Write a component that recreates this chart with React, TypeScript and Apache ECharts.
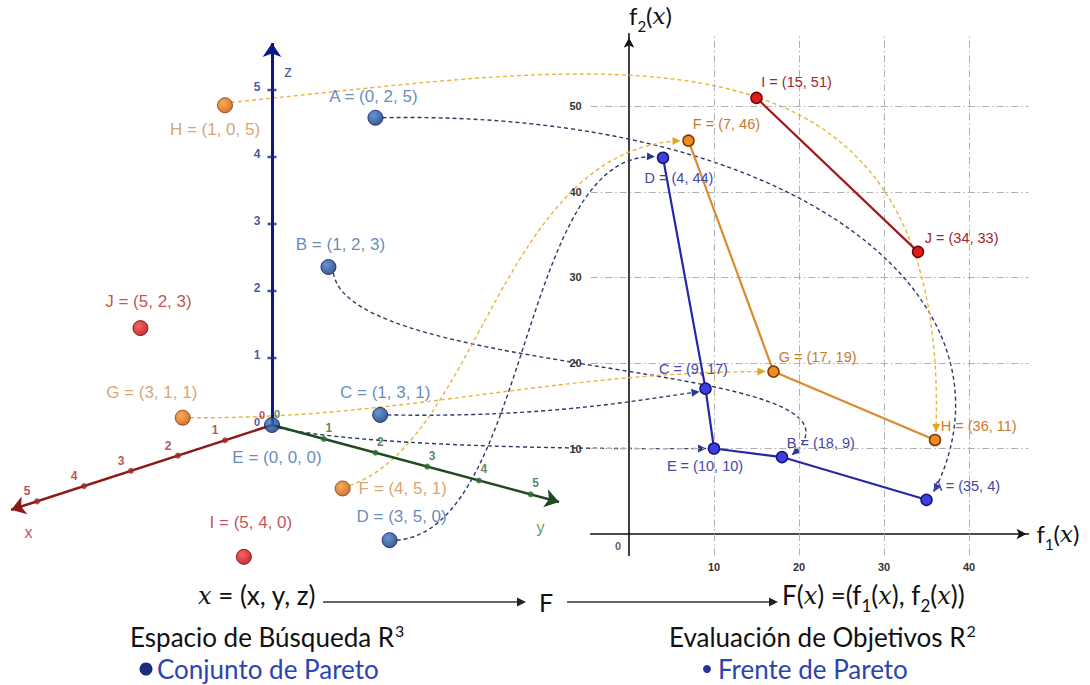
import React, { useEffect, useRef } from 'react';
import * as echarts from 'echarts';

// ---------- data ----------
const pointNames = ['A', 'B', 'C', 'D', 'E', 'F', 'G', 'H', 'I', 'J'];
const searchX = [0, 1, 1, 3, 0, 4, 3, 1, 5, 5];
const searchY = [2, 2, 3, 5, 0, 5, 1, 0, 4, 2];
const searchZ = [5, 3, 1, 0, 0, 1, 1, 5, 0, 3];
const f1Values = [35, 18, 9, 4, 10, 7, 17, 36, 15, 34];
const f2Values = [4, 9, 17, 44, 10, 46, 19, 11, 51, 33];
const paretoFront = ['D', 'C', 'E', 'B', 'A'];
const secondFront = ['F', 'G', 'H'];
const thirdFront = ['I', 'J'];
const axis3DTicks = [0, 1, 2, 3, 4, 5];
const f1TickLabels = [10, 20, 30, 40];
const f2TickLabels = [10, 20, 30, 40, 50];
const f1GridLines = [10, 20, 30, 40];
const f2GridLines = [10, 20, 30, 40, 50];

// ---------- styling ----------
const FONT = 'Liberation Sans';
const BOTTOM_FONT = 'Lato';
const groupOf = (n: string) =>
  paretoFront.includes(n) ? 'p' : secondFront.includes(n) ? 's' : 't';
const colors: any = {
  p: { fill: '#3f3fe0', border: '#15157a', line: '#2626a6', label: '#4646a8', lLabel: '#3e6ea6' },
  s: { fill: '#f08a22', border: '#7a3a06', line: '#d98b2e', label: '#c8792e', lLabel: '#cf8c4e' },
  t: { fill: '#e11a1a', border: '#6a0606', line: '#a3161f', label: '#a3242e', lLabel: '#b0262c' },
};
const sphere: any = {
  p: ['#3d7ccc', '#0c2f6c'],
  s: ['#ff9430', '#c05200'],
  t: ['#ff3a3a', '#a80000'],
};

// oblique projection of the 3D search space (units of the z axis)
const EX = [-0.7015, -0.228];
const EY = [0.772, -0.207];
const proj = (x: number, y: number, z: number) => [x * EX[0] + y * EY[0], x * EX[1] + y * EY[1] + z];

const leftLabel: any = {
  A: ['top', [-2, 0]],
  B: ['top', [12, -1]],
  C: ['top', [5, -1]],
  D: ['top', [12, -2]],
  E: ['bottom', [5, 11]],
  F: ['right', [3, 0]],
  G: ['top', [-31, -4]],
  H: ['bottom', [-10, 3]],
  I: ['top', [7, -13]],
  J: ['top', [8, -5]],
};
const rightLabel: any = {
  A: ['right', [-5, -14]],
  B: ['right', [-6.5, -14]],
  C: ['top', [-12, -1]],
  D: ['bottom', [16, 1]],
  E: ['bottom', [-9, -1]],
  F: ['right', [-7, -17]],
  G: ['right', [-6, -15]],
  H: ['right', [-5.5, -14]],
  I: ['right', [-6.5, -16]],
  J: ['right', [-4.5, -14]],
};
// connector routing: start offset, end offset, control1 (rel. start), control2 (rel. end)
const connectors: any = {
  A: [[7, 0], [7.5, -8], [417, -8], [96, -192]],
  B: [[5, 6], [10, -2], [16, 106], [108, -95]],
  C: [[7, 0], [-6, 3], [163, 3], [-60, 8]],
  D: [[7, 0], [-8, -1], [133, -10], [-135, -7]],
  E: [[7, 3], [-8, 0], [81, 17], [-156, 1]],
  F: [[7, -3], [-8, 0], [130, -45], [-180, 9]],
  G: [[7, 0], [-8, 0], [210, 2], [-215, 0]],
  H: [[6, -3], [1, -8], [369, -36], [14, -440]],
};

const idx = (n: string) => pointNames.indexOf(n);
const p3 = (n: string) => { const i = idx(n); return proj(searchX[i], searchY[i], searchZ[i]); };
const p2 = (n: string) => { const i = idx(n); return [f1Values[i], f2Values[i]]; };
const label3 = (n: string) => { const i = idx(n); return `${n} = (${searchX[i]}, ${searchY[i]}, ${searchZ[i]})`; };
const label2 = (n: string) => { const i = idx(n); return `${n} = (${f1Values[i]}, ${f2Values[i]})`; };

const radial = (g: string) =>
  new echarts.graphic.RadialGradient(0.38, 0.35, 0.7, [
    { offset: 0, color: sphere[g][0] },
    { offset: 1, color: sphere[g][1] },
  ]);

function buildOption(): any {
  const leftPoints = pointNames.map((n) => {
    const g = groupOf(n);
    return {
      value: p3(n),
      itemStyle: { color: radial(g), borderColor: colors[g].border, borderWidth: 1 },
      label: {
        show: true,
        formatter: label3(n),
        position: leftLabel[n][0],
        offset: leftLabel[n][1],
        color: colors[g].lLabel,
        fontSize: 17,
        fontFamily: FONT,
      },
    };
  });

  const frontSeries = (names: string[], g: string) => ({
    type: 'line',
    xAxisIndex: 1,
    yAxisIndex: 1,
    z: 5,
    symbol: 'circle',
    symbolSize: 11,
    lineStyle: { color: colors[g].line, width: 2.2 },
    itemStyle: { color: colors[g].fill, borderColor: colors[g].border, borderWidth: 1.5 },
    data: names.map((n) => ({
      value: p2(n),
      label: {
        show: true,
        formatter: label2(n),
        position: rightLabel[n][0],
        offset: rightLabel[n][1],
        color: colors[g].label,
        fontSize: 14.5,
        fontFamily: FONT,
      },
    })),
  });

  const tickSeries = (axis: 'x' | 'y' | 'z', color: string, symbol: string, size: any, off: number[]) => ({
    type: 'scatter',
    xAxisIndex: 0,
    yAxisIndex: 0,
    z: 3,
    symbol,
    data: axis3DTicks.map((t) => ({
      value: axis === 'x' ? proj(t, 0, 0) : axis === 'y' ? proj(0, t, 0) : proj(0, 0, t),
      symbolSize: t === 0 ? 0 : size,
      label: { fontSize: t === 0 ? 11 : 12 },
    })),
    itemStyle: { color },
    label: {
      show: true,
      position: 'inside',
      offset: off,
      formatter: (p: any) => String(axis3DTicks[p.dataIndex]),
      color,
      fontFamily: FONT,
      fontWeight: 'bold',
    },
  });

  const axisName = (name: string, pos: number[], off: number[], color: string) => ({
    value: pos,
    label: { show: true, formatter: name, position: 'inside', offset: off, color, fontSize: 16, fontFamily: FONT },
  });

  const subRich = (fs: number) => ({
    f: { fontSize: fs, lineHeight: fs, fontFamily: BOTTOM_FONT, color: '#111', verticalAlign: 'bottom', padding: [0, 0, 6, 0] },
    i: { fontSize: fs - 1, lineHeight: fs, fontFamily: 'DejaVu Serif', fontStyle: 'italic', color: '#111', verticalAlign: 'bottom', padding: [0, 0, 6, 0] },
    s: { fontSize: 15, lineHeight: 15, fontFamily: BOTTOM_FONT, color: '#111', verticalAlign: 'bottom' },
  });

  return {
    animation: false,
    backgroundColor: '#ffffff',
    textStyle: { fontFamily: FONT },
    grid: [
      { left: 4, top: 23, width: 670, height: 603 },
      { left: 590.75, top: 33.8, width: 437.75, height: 521.6 },
    ],
    xAxis: [
      { gridIndex: 0, type: 'value', min: -4, max: 6, show: false },
      {
        gridIndex: 1,
        type: 'value',
        min: -4.5,
        max: 47,
        minInterval: 10,
        maxInterval: 10,
        name: '{f|f}{s|1}{f|(}{i|x}{f|)}',
        nameLocation: 'end',
        nameGap: 8,
        nameTextStyle: { rich: subRich(24), verticalAlign: 'middle', padding: [10, 0, 0, 0] },
        axisLine: { onZero: true, symbol: ['none', 'arrow'], symbolSize: [8, 10], symbolOffset: [0, -2], lineStyle: { color: '#111', width: 1.6 } },
        axisTick: { show: false },
        splitLine: { show: false },
        axisLabel: {
          showMinLabel: false,
          showMaxLabel: false,
          margin: 6,
          color: '#333',
          fontSize: 11,
          fontWeight: 'bold',
          formatter: (v: number) => (f1TickLabels.includes(v) ? String(v) : ''),
        },
      },
    ],
    yAxis: [
      { gridIndex: 0, type: 'value', min: -3, max: 6, show: false },
      {
        gridIndex: 1,
        type: 'value',
        min: -2.5,
        max: 58.5,
        minInterval: 10,
        maxInterval: 10,
        name: '{f|f}{s|2}{f|(}{i|x}{f|)}',
        nameLocation: 'end',
        nameGap: 0,
        nameTextStyle: { rich: subRich(24), align: 'left', verticalAlign: 'bottom' },
        axisLine: { onZero: true, symbol: ['none', 'arrow'], symbolSize: [8, 10], symbolOffset: [0, -4], lineStyle: { color: '#111', width: 1.6 } },
        axisTick: { show: false },
        splitLine: { show: false },
        axisLabel: {
          showMinLabel: false,
          showMaxLabel: false,
          margin: 9,
          color: '#333',
          fontSize: 11,
          fontWeight: 'bold',
          formatter: (v: number) => (f2TickLabels.includes(v) ? String(v) : ''),
        },
      },
    ],
    series: [
      // grid lines of the objective space
      {
        type: 'line',
        xAxisIndex: 1,
        yAxisIndex: 1,
        z: 1,
        data: [],
        markLine: {
          silent: true,
          symbol: ['none', 'none'],
          label: { show: false },
          lineStyle: { color: '#b0b0b0', width: 1, type: [7, 3, 1.5, 3] },
          data: [
            ...f1GridLines.map((v) => ({ xAxis: v })),
            ...f2GridLines.map((v) => ({ yAxis: v })),
          ],
        },
      },
      // origin label of the objective space
      {
        type: 'scatter',
        xAxisIndex: 1,
        yAxisIndex: 1,
        symbolSize: 0,
        data: [[0, 0]],
        label: { show: true, formatter: '0', position: 'inside', offset: [-11, 12], color: '#333', fontSize: 11, fontWeight: 'bold' },
      },
      // 3D axes
      {
        type: 'lines',
        coordinateSystem: 'cartesian2d',
        xAxisIndex: 0,
        yAxisIndex: 0,
        z: 2,
        symbol: ['none', 'arrow'],
        symbolSize: 14,
        lineStyle: { opacity: 1 },
        data: [
          { coords: [proj(0, 0, 0), proj(5.55, 0, 0)], lineStyle: { color: '#8b1a1a', width: 2.5, opacity: 1 } },
          { coords: [proj(0, 0, 0), proj(0, 5.55, 0)], lineStyle: { color: '#1f4a1f', width: 2.5, opacity: 1 } },
          { coords: [proj(0, 0, 0), proj(0, 0, 5.7)], lineStyle: { color: '#0b168a', width: 3, opacity: 1 } },
        ],
      },
      tickSeries('x', '#a3262a', 'circle', 6, [-10, -10]),
      tickSeries('y', '#2e6a2e', 'circle', 6, [5, -11]),
      tickSeries('z', '#1c2a8a', 'rect', [9, 2.5], [-15, -3]),
      {
        type: 'scatter',
        xAxisIndex: 0,
        yAxisIndex: 0,
        symbolSize: 0,
        data: [
          axisName('x', proj(5.5, 0, 0), [15, 23], '#a3262a'),
          axisName('y', proj(0, 5.5, 0), [-16, 26], '#3a7a3a'),
          axisName('z', proj(0, 0, 5.6), [16, 22], '#1c2a8a'),
        ],
      },
      // search-space points
      {
        type: 'scatter',
        xAxisIndex: 0,
        yAxisIndex: 0,
        z: 6,
        symbolSize: 15,
        data: leftPoints,
      },
      frontSeries(paretoFront, 'p'),
      frontSeries(secondFront, 's'),
      frontSeries(thirdFront, 't'),
    ],
  };
}

function bottomGraphics(): any[] {
  const FS = 26;
  const txt = (x: number, y: number, text: string, rich: any, fill = '#111', fontSize = FS) => ({
    type: 'text',
    x,
    y,
    silent: true,
    style: { text, rich, fill, fontSize, fontFamily: BOTTOM_FONT, verticalAlign: 'middle' },
  });
  const n = { fontSize: 26, lineHeight: 26, fontFamily: BOTTOM_FONT, color: '#111', verticalAlign: 'bottom', padding: [0, 0, 6, 0] };
  const it = { ...n, fontFamily: 'DejaVu Serif', fontStyle: 'italic', fontSize: 24 };
  const sub = { fontSize: 17, lineHeight: 17, fontFamily: BOTTOM_FONT, color: '#111', verticalAlign: 'bottom' };
  const nSup = { fontSize: FS, lineHeight: 26, fontFamily: BOTTOM_FONT, color: '#111', verticalAlign: 'bottom' };
  const sup = { fontSize: 16, lineHeight: 16, fontFamily: BOTTOM_FONT, color: '#111', verticalAlign: 'bottom', padding: [0, 0, 12, 1] };
  const arrow = (x1: number, x2: number, y: number) => [
    { type: 'line', silent: true, shape: { x1, y1: y, x2: x2 - 6, y2: y }, style: { stroke: '#333', lineWidth: 1.4 } },
    { type: 'polygon', silent: true, shape: { points: [[x2 - 9, y - 4.5], [x2, y], [x2 - 9, y + 4.5]] }, style: { fill: '#222' } },
  ];
  return [
    txt(198, 601, '{i|x}{n| = (x, y, z)}', { n, i: it }),
    ...arrow(323, 526, 602),
    txt(539, 602, 'F', null, '#111', 25),
    ...arrow(567, 778, 602),
    txt(782, 601, '{n|F(}{i|x}{n|) =(f}{s|1}{n|(}{i|x}{n|), f}{s|2}{n|(}{i|x}{n|))}', { n, i: it, s: sub }),
    txt(130, 637, '{n|Espacio de Búsqueda R}{u|3}', { n: nSup, u: sup }),
    txt(669, 637, '{n|Evaluación de Objetivos R}{u|2}', { n: nSup, u: sup }),
    { type: 'circle', silent: true, shape: { cx: 146, cy: 669, r: 6.5 }, style: { fill: '#1b2c7e' } },
    txt(157, 669, 'Conjunto de Pareto', null, '#2a45ad'),
    { type: 'circle', silent: true, shape: { cx: 707, cy: 669, r: 4 }, style: { fill: '#24349a' } },
    txt(718, 669, 'Frente de Pareto', null, '#2a45ad'),
  ];
}

export default function App() {
  const ref = useRef<HTMLDivElement>(null);
  useEffect(() => {
    const chart = echarts.init(ref.current!, null, { renderer: 'svg' });
    chart.setOption(buildOption());

    const elements: any[] = [];
    Object.keys(connectors).forEach((n) => {
      const [s, e, d1, d2] = connectors[n];
      const a = chart.convertToPixel({ gridIndex: 0 }, p3(n)) as number[];
      const b = chart.convertToPixel({ gridIndex: 1 }, p2(n)) as number[];
      const x1 = a[0] + s[0], y1 = a[1] + s[1];
      const x2 = b[0] + e[0], y2 = b[1] + e[1];
      const c1x = x1 + d1[0], c1y = y1 + d1[1];
      const c2x = x2 + d2[0], c2y = y2 + d2[1];
      const isBlue = groupOf(n) === 'p';
      const stroke = isBlue ? '#2e3a66' : '#e9b43c';
      const head = isBlue ? '#283a90' : '#e0a820';
      elements.push({
        type: 'bezierCurve',
        silent: true,
        z: 1,
        shape: { x1, y1, x2, y2, cpx1: c1x, cpy1: c1y, cpx2: c2x, cpy2: c2y },
        style: { stroke, lineWidth: 1.4, lineDash: [4, 3], fill: null },
      });
      let dx = x2 - c2x, dy = y2 - c2y;
      const L = Math.hypot(dx, dy) || 1;
      dx /= L; dy /= L;
      const bx = x2 - dx * 8, by = y2 - dy * 8;
      elements.push({
        type: 'polygon',
        silent: true,
        z: 1,
        shape: { points: [[x2, y2], [bx - dy * 4, by + dx * 4], [bx + dy * 4, by - dx * 4]] },
        style: { fill: head },
      });
    });
    chart.setOption({ graphic: { elements: [...elements, ...bottomGraphics()] } });
    return () => chart.dispose();
  }, []);
  return (
    <div
      ref={ref}
      style={{ position: 'fixed', left: 0, top: 0, width: 1090, height: 685, background: '#fff' }}
    />
  );
}
